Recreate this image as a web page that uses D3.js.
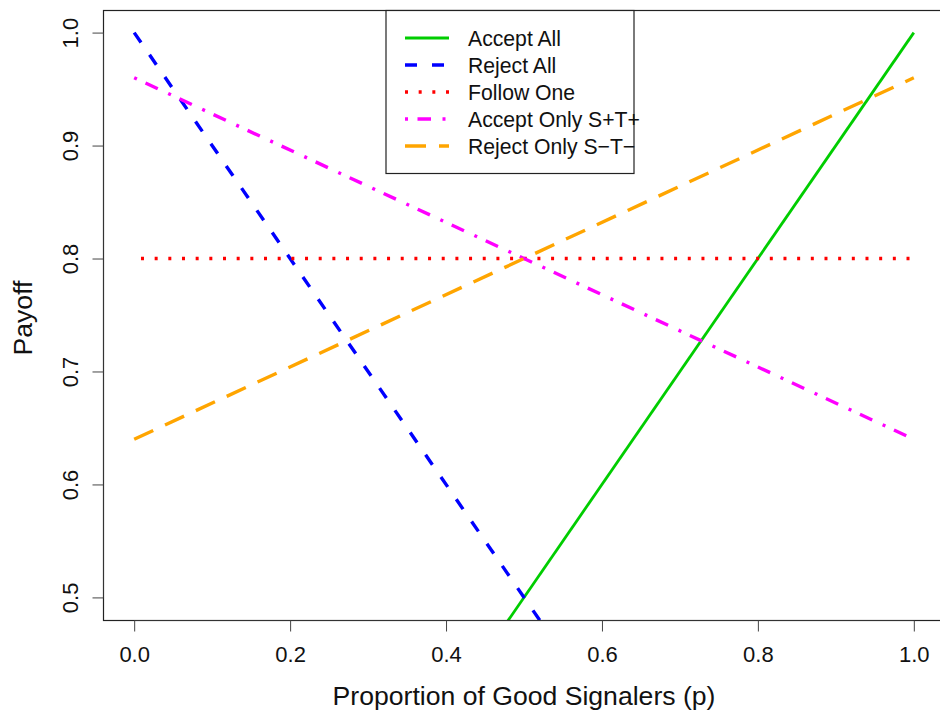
<!DOCTYPE html>
<html>
<head>
<meta charset="utf-8">
<script src="https://cdn.jsdelivr.net/npm/d3@7"></script>
<style>
  body { margin: 0; background: #fff; }
  svg { display: block; font-family: "Liberation Sans", Arial, Helvetica, sans-serif; }
</style>
</head>
<body>
<div id="chart"></div>
<script>
  const pEnds = [0, 1];
  const acceptAll = [0, 1];
  const rejectAll = [1, 0];
  const followOne = [0.8, 0.8];
  const acceptOnly = [0.96, 0.64];
  const rejectOnly = [0.64, 0.96];

  const seriesNames = ["Accept All", "Reject All", "Follow One", "Accept Only S+T+", "Reject Only S\u2212T\u2212"];
  const xTicks = [0, 0.2, 0.4, 0.6, 0.8, 1.0];
  const yTicks = [0.5, 0.6, 0.7, 0.8, 0.9, 1.0];

  const width = 940;
  const height = 713;

  // plot region (R style: 4% extension of the limits)
  const x = d3.scaleLinear().domain([-0.04, 1.04]).range([103, 945]);
  const y = d3.scaleLinear().domain([0.48, 1.02]).range([620, 10]);

  const svg = d3
    .select("#chart")
    .append("svg")
    .attr("width", width)
    .attr("height", height);

  svg.append("clipPath")
    .attr("id", "plot-clip")
    .append("rect")
    .attr("x", 103)
    .attr("y", 10)
    .attr("width", 842)
    .attr("height", 610);

  const series = [
    { name: seriesNames[0], values: acceptAll, color: "#00cd00", dash: null, w: 2.8 },
    { name: seriesNames[1], values: rejectAll, color: "#0000ff", dash: "12,15", w: 3.4 },
    { name: seriesNames[2], values: followOne, color: "#ff0000", dash: "3,10.67", w: 3.4, offset: 6.87 },
    { name: seriesNames[3], values: acceptOnly, color: "#ff00ff", dash: "3,9.5,13.5,11.5", w: 3.4 },
    { name: seriesNames[4], values: rejectOnly, color: "#ffa500", dash: "21,13", w: 3.4 },
  ];

  const line = d3
    .line()
    .x((d) => x(d[0]))
    .y((d) => y(d[1]));

  const plot = svg.append("g").attr("clip-path", "url(#plot-clip)");

  series.forEach((s) => {
    plot
      .append("path")
      .datum(pEnds.map((p, i) => [p, s.values[i]]))
      .attr("d", line)
      .attr("fill", "none")
      .attr("stroke", s.color)
      .attr("stroke-width", s.w)
      .attr("stroke-dasharray", s.dash)
      .attr("stroke-dashoffset", s.offset || 0);
  });

  // box
  svg.append("rect")
    .attr("x", 103.5)
    .attr("y", 10.5)
    .attr("width", 842)
    .attr("height", 610)
    .attr("fill", "none")
    .attr("stroke", "#222")
    .attr("stroke-width", 1.2);

  // x axis
  const xAxis = d3
    .axisBottom(x)
    .tickValues(xTicks)
    .tickFormat(d3.format(".1f"))
    .tickSize(11)
    .tickPadding(15);

  svg.append("g")
    .attr("transform", "translate(0,620.5)")
    .call(xAxis)
    .call((g) => g.select(".domain").attr("stroke", "#333").attr("d", `M${x(0)},0H${x(1)}`))
    .call((g) => g.selectAll(".tick line").attr("stroke", "#444"))
    .call((g) => g.selectAll("text").attr("fill", "#111").style("font-size", "22px").attr("font-family", null));

  // y axis
  const yAxis = d3
    .axisLeft(y)
    .tickValues(yTicks)
    .tickFormat(d3.format(".1f"))
    .tickSize(11);

  svg.append("g")
    .attr("transform", "translate(103.5,0)")
    .call(yAxis)
    .call((g) => g.select(".domain").attr("stroke", "#333").attr("d", `M0,${y(0.5)}V${y(1)}`))
    .call((g) => g.selectAll(".tick line").attr("stroke", "#444"))
    .call((g) =>
      g.selectAll("text")
        .attr("fill", "#111")
        .style("font-size", "22px")
        .attr("font-family", null)
        .attr("x", null)
        .attr("dy", null)
        .attr("text-anchor", "middle")
        .attr("transform", "translate(-25.5,0) rotate(-90)")
    );

  // axis titles
  svg.append("text")
    .attr("x", 524)
    .attr("y", 705)
    .attr("text-anchor", "middle")
    .style("font-size", "26.6px")
    .attr("fill", "#111")
    .text("Proportion of Good Signalers (p)");

  svg.append("text")
    .attr("transform", "translate(32,318) rotate(-90)")
    .attr("text-anchor", "middle")
    .style("font-size", "26.6px")
    .attr("fill", "#111")
    .text("Payoff");

  // legend
  const legend = svg.append("g");
  legend.append("rect")
    .attr("x", 386)
    .attr("y", 10.5)
    .attr("width", 248)
    .attr("height", 163)
    .attr("fill", "#fff")
    .attr("stroke", "#222")
    .attr("stroke-width", 1.2);

  const rows = legend
    .selectAll("g.row")
    .data(series)
    .join("g")
    .attr("class", "row")
    .attr("transform", (d, i) => `translate(0,${38 + i * 27})`);

  rows.append("line")
    .attr("x1", 405)
    .attr("x2", 449)
    .attr("stroke", (d) => d.color)
    .attr("stroke-width", (d) => d.w)
    .attr("stroke-dasharray", (d) => d.dash);

  rows.append("text")
    .attr("x", 468)
    .attr("y", 8)
    .style("font-size", "21.2px")
    .attr("fill", "#111")
    .text((d) => d.name);
</script>
</body>
</html>
